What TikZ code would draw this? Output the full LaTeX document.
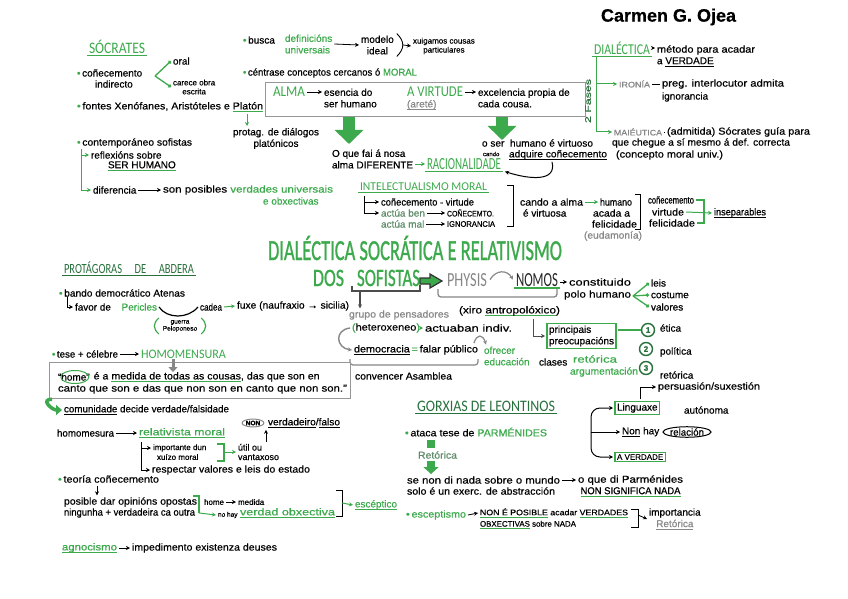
\documentclass[tikz,border=0pt]{standalone}
\usepackage{fontspec}
\setmainfont{Liberation Sans}[FakeBold=0.5]
\newfontfamily\hdfam{Carlito}
\newfontfamily\ttlfam{Carlito}[FakeBold=1.2]
\usepackage{graphicx}
\usetikzlibrary{arrows.meta,shapes.geometric}
\definecolor{grn}{RGB}{60,170,76}
\definecolor{dgrn}{RGB}{40,112,60}
\definecolor{gry}{RGB}{135,135,135}
\definecolor{mg}{RGB}{95,140,105}
\definecolor{boxc}{RGB}{150,150,150}
\newcommand\tf{\fontsize{10}{11.5}\selectfont}
\newcommand\smf{\fontsize{8}{9}\selectfont}
\newcommand\fw[2]{\resizebox{#1}{\height}{#2}}
\newcommand\hw[3]{\resizebox{#2}{\height}{\fontsize{#1}{#1}\selectfont\hdfam #3}}
\newcommand\tw[3]{\resizebox{#2}{\height}{\fontsize{#1}{#1}\selectfont\ttlfam #3}}
\newcommand\ulc[2]{\setbox0\hbox{#2}\leavevmode\rlap{\color{#1}\rule[-2.5pt]{\wd0}{0.8pt}}\box0\relax}
\newcommand\gb{\textcolor{grn}{•}\,}
\begin{document}
\begin{tikzpicture}[x=1pt,y=-1pt,
  tx/.style={anchor=west,inner sep=0pt,outer sep=2pt,font=\tf,align=left},
  hd/.style={anchor=west,inner sep=0pt,outer sep=2pt},
  ar/.style={-{Stealth[length=4pt,width=4pt]},line width=0.8pt},
  gar/.style={ar,draw=grn,line width=1pt},
  ln/.style={line width=0.9pt},
  gln/.style={line width=1pt,draw=grn},
  dar/.style={-{Circle[length=3.4pt]},line width=1.3pt,draw=grn},
  bigar/.style={draw=grn,line width=12pt,-{Triangle[length=14pt,width=28pt]}},
  gbox/.style={draw=grn,line width=1.2pt,inner sep=2pt},
  cnum/.style={circle,draw=dgrn,line width=1.4pt,inner sep=0.6pt,font=\smf\bfseries,text=dgrn,minimum size=13pt}]
\useasboundingbox (0,0) rectangle (848,599);
\fill[white] (0,0) rectangle (848,599);

% author
\node[hd,font=\fontsize{18}{18}\selectfont\bfseries] (author) at (599,17) {Carmen G. Ojea};

% ===== SOCRATES
\node[hd,text=grn] (soc) at (87,47) {\hw{16}{56pt}{SÓCRATES}};
\draw[gln] (soc.south west) -- (soc.south east);
\node[tx] (con1) at (75,73) {\gb coñecemento};
\node[tx] (con2) at (93,84) {indirecto};
\coordinate (fk1) at (155,76);
\node[tx] (oral) at (171,61) {oral};
\node[tx,font=\smf,align=center] (car) at (171,87) {carece obra\\escrita};
\draw[dar] (fk1) -- (oral.west);
\draw[dar] (fk1) -- (car.west);
\node[tx] (fon) at (75,107) {\fw{186pt}{\gb fontes Xenófanes, Aristóteles e \ulc{grn}{Platón}}};
\coordinate (pl) at (247,114);
\node[tx,anchor=north,align=center] (ptg) at (276,126) {protag. de diálogos\\platónicos};
\draw[gar] (pl) -- (pl |- ptg.north);
\node[tx] (cont) at (75,143) {\fw{115pt}{\gb contemporáneo sofistas}};
\coordinate (cL) at (81,149);
\node[tx] (refl) at (89,155) {reflexións sobre};
\node[tx] (serh) at (106,166) {\ulc{grn}{SER HUMANO}};
\node[tx] (dif) at (91,190) {diferencia};
\node[tx] (posi) at (161,190) {\fw{170pt}{son posibles \textcolor{grn}{verdades universais}}};
\node[tx,text=grn] (obx) at (261,201) {e obxectivas};
\draw[gar] (cL) |- (refl.west);
\draw[gar] (cL) |- (dif.west);
\draw[ar] (dif.east) -- (posi.west);

% ===== busca
\node[tx] (bus) at (241,40) {\gb busca};
\node[tx,text=grn] (defu) at (283,44) {definicións\\universais};
\node[tx,align=center] (mod) at (359,45) {modelo\\ideal};
\draw[ar] (defu.east) -- (mod.west);
\draw[ln] ([xshift=1pt]mod.north east) .. controls +(8,8) and +(8,-8) .. ([xshift=1pt]mod.south east);
\coordinate (bm) at (403,45);
\node[tx,font=\smf,align=center] (xui) at (411,46) {xuigamos cousas\\particulares};
\draw[ar] (bm) -- (xui.west);
\node[tx] (cen) at (241,73) {\fw{174pt}{\gb céntrase conceptos cercanos ó \textcolor{grn}{MORAL}}};

% ===== box alma / virtude
\node[draw=boxc,line width=1.2pt,minimum width=320pt,minimum height=34pt,inner sep=0pt,anchor=north west] (abox) at (265,82) {};
\node[hd,text=grn] (alma) at (271,92) {\hw{15}{32pt}{ALMA}};
\node[tx] (esen) at (322,98) {esencia do\\ser humano};
\draw[ar] (alma.east) -- (alma.east -| esen.west);
\node[hd,text=grn] (virt) at (405,92) {\hw{15}{56pt}{A VIRTUDE}};
\node[tx,text=gry] (aret) at (405,105) {\ulc{gry}{(areté)}};
\node[tx] (exc) at (476,98) {excelencia propia de\\cada cousa.};
\draw[ar] (virt.east) -- (virt.east -| exc.west);
\coordinate (a1) at (349,117);
\coordinate (a1e) at (349,144);
\draw[bigar] (a1) -- (a1e);
\coordinate (a2) at (502,117);
\coordinate (a2e) at (502,140);
\draw[bigar] (a2) -- (a2e);
\node[tx] (que) at (330,159) {O que fai á nosa\\alma DIFERENTE};
\node[hd,text=grn] (rac) at (425,164) {\hw{17}{74pt}{RACIONALIDADE}};
\draw[gln,line width=1.3pt] (rac.south west) -- (rac.south east);
\draw[gar] (rac.west -| que.east) -- (rac.west);
\node[tx] (vir) at (480,143) {\fw{111pt}{o ser \ humano é virtuoso}};
\node[tx,font=\fontsize{6}{6}\selectfont] (cando) at (481,154) {cando};
\node[tx] (adq) at (507,155) {\fw{98pt}{\ulc{black}{adquire coñecemento}}};
\draw[ar,line width=1pt] ([xshift=-6pt]adq.south) .. controls +(5,20) and +(25,8) .. ([xshift=2pt]rac.south east);

% ===== DIALECTICA
\node[hd,text=grn] (dial) at (592,48) {\hw{15}{56pt}{DIALÉCTICA}};
\draw[gln] (dial.south west) -- (dial.south east);
\node[tx] (met) at (655,50) {\fw{98pt}{método para acadar}};
\node[tx] (ver) at (655,62) {a \ulc{black}{VERDADE}};
\draw[ar] (dial.east) -- (dial.east -| met.west);
\coordinate (dL) at (596,57);
\node[tx,text=gry,font=\smf] (iro) at (617,84) {\fw{31pt}{IRONÍA}};
\node[tx] (preg) at (660,84) {\fw{122pt}{preg. interlocutor admita}};
\node[tx] (ign) at (660,97) {ignorancia};
\draw[ln] (iro.east) -- (preg.west);
\node[tx,text=gry,font=\smf] (mai) at (612,132) {\fw{48pt}{MAIÉUTICA}};
\node[tx] (adm) at (665,132) {\fw{143pt}{(admitida) Sócrates guía para}};
\node[tx] (cheg) at (610,143) {\fw{178pt}{que chegue a sí mesmo á def. correcta}};
\node[tx] (concm) at (614,155) {\fw{107pt}{(concepto moral univ.)}};
\draw[ln] (mai.east) -- (adm.west);
\draw[gar] (dL) |- (iro.west);
\draw[gar] (dL) |- (mai.west);
\node[rotate=90,inner sep=0pt,text=dgrn,font=\smf] (fas) at (588,101) {\fw{44pt}{2 Fases}};

% ===== INTELECTUALISMO
\node[hd,text=grn] (int) at (358,187) {\hw{12}{127pt}{INTELECTUALISMO MORAL}};
\draw[gln] (int.south west) -- (int.south east);
\coordinate (iL) at (364,196);
\node[tx] (k1) at (379,202) {\fw{93pt}{coñecemento - virtude}};
\node[tx,text=mg] (k2) at (379,213) {actúa ben};
\node[tx,font=\smf] (k2b) at (445,213) {\fw{47pt}{COÑECEMTO.}};
\node[tx,text=mg] (k3) at (379,224) {actúa mal};
\node[tx,font=\smf] (k3b) at (445,224) {\fw{48pt}{IGNORANCIA}};
\draw[ar] (iL) |- (k1.west);
\draw[ar] (iL) |- (k2.west);
\draw[ar] (k2.east) -- (k2b.west);
\draw[ar] (k3.east) -- (k3b.west);
\draw[ln] (507,185) -- (513,185) -- (513,226) -- (507,226);
\node[tx] (cal1) at (518,202) {\fw{63pt}{cando a alma}};
\node[tx] (cal2) at (521,213) {é virtuosa};
\node[tx] (hum1) at (598,202) {\fw{32pt}{humano}};
\node[tx] (hum2) at (591,213) {\fw{37pt}{acada a}};
\node[tx] (hum3) at (590,224) {\fw{45pt}{felicidade}};
\draw[gar] (cal1.east) -- (hum1.west);
\node[tx,text=gry] (eud) at (582,236) {\fw{58pt}{(eudamonía)}};
\draw[ln] (635,194) -- (640,194) -- (640,229) -- (635,229);
\node[tx] (tr1) at (646,200) {\fw{46pt}{coñecemento}};
\node[tx] (tr2) at (650,212) {\fw{32pt}{virtude}};
\node[tx] (tr3) at (647,223) {\fw{46pt}{felicidade}};
\coordinate (bk) at (704,212);
\draw[gln,line width=1.2pt] (tr1.east) -| (bk) |- (tr3.east);
\node[tx] (insep) at (712,213) {\fw{52pt}{\ulc{black}{inseparables}}};
\draw[gar] (tr2.east) -- (insep.west);

% ===== TITLE
\node[hd,anchor=base west,text=grn] (t1) at (266,260) {\tw{29}{294pt}{DIALÉCTICA SOCRÁTICA E RELATIVISMO}};
\node[hd,anchor=base west,text=grn] (t2) at (311,286) {\tw{25}{31pt}{DOS}};
\node[hd,anchor=base west,text=grn] (t3) at (355,286) {\tw{25}{63pt}{SOFISTAS}};
\draw[line width=1.3pt,black!70] (352,286) -- (352,291) -- (420,291) -- (420,285);
\coordinate (sD) at (360,291);
\node[tx,text=gry] (grp) at (347,315) {\fw{100pt}{grupo de pensadores}};
\draw[ar,black!70,line width=1.2pt] (sD) -- (sD |- grp.north);
\draw[black!80,fill=grn,line width=1.2pt] (420,278) -- (430,278) -- (430,274) -- (442,281) -- (430,288) -- (430,284) -- (420,284) -- cycle;
\node[hd,anchor=base west,text=gry] (phys) at (445,286) {\hw{20}{40pt}{PHYSIS}};
\node[hd,anchor=base west,text=black!85] (nomos) at (514,286) {\hw{20}{42pt}{NOMOS}};
\draw[gln,line width=1.3pt] (nomos.south west) -- (nomos.south east);
\draw[gry,ar,line width=1.2pt] ([xshift=1pt]phys.east) .. controls +(6,-10) and +(-6,-10) .. ([xshift=-1pt]nomos.west);
\node[tx] (cons1) at (567,282) {\fw{62pt}{constituido}};
\node[tx] (cons2) at (562,295) {\fw{67pt}{polo humano}};
\draw[ar] (nomos.east |- cons1.west) -- (cons1.west);
\draw[gry,line width=1.3pt,rounded corners=3pt] (438,289) -- (438,297) -- (557,297) -- (557,289);
\node[tx] (xiro) at (457,311) {\fw{101pt}{(xiro \ulc{grn}{antropolóxico})}};
\coordinate (fk2) at (633,296);
\node[tx] (leis) at (649,283) {leis};
\node[tx] (cost) at (649,295) {costume};
\node[tx] (val) at (649,307) {valores};
\draw[dar] (fk2) -- (leis.west);
\draw[dar] (fk2) -- (cost.west);
\draw[dar] (fk2) -- (val.west);

% ===== sofistas group
\node[tx] (het) at (350,328) {\fw{68pt}{\textcolor{grn}{(}heteroxeneo\textcolor{grn}{)}}};
\node[tx] (act) at (423,328) {\fw{87pt}{actuaban indiv.}};
\draw[gar] (het.east) -- (act.west);
\node[tx] (dem) at (352,350) {\fw{124pt}{\ulc{black}{democracia}\,\textcolor{grn}{=}\,falar público}};
\draw[gry,ar,line width=1.4pt] (het.west) .. controls +(-16,2) and +(-16,-2) .. (dem.west);
\node[tx,text=grn] (ofr) at (482,356) {ofrecer\\educación};
\draw[gry,ar,line width=1.2pt] ([xshift=-6pt]dem.north east) .. controls +(3,-10) and +(-3,-10) .. ([xshift=4pt]ofr.north west);
\node[tx] (clas) at (537,362) {clases};
\node[tx,text=grn] (ret) at (571,359) {\fw{44pt}{retórica}};
\node[tx,text=grn] (arg) at (568,372) {\fw{68pt}{argumentación}};
\draw[gry,line width=1.2pt,rounded corners=3pt] (350,359) -- (350,365) -- (478,365) -- (478,359);
\node[tx] (conv) at (353,376) {\fw{97pt}{convencer Asamblea}};
\coordinate (xr) at (533,319);
\node[tx,gbox] (prin) at (545,336) {principais\\preocupacións};
\draw[ar,black!70] (xr) |- (prin.west);
\node[cnum] (c1) at (648,330) {1};
\node[cnum] (c2) at (646,349) {2};
\node[cnum] (c3) at (646,368) {3};
\draw[gln,line width=1.2pt] (c1.west -| prin.east) -- (c1.west);
\node[tx] (eti) at (658,328) {ética};
\node[tx] (pol) at (658,352) {política};
\node[tx] (ret2) at (658,375) {retórica};

% ===== PROTAGORAS
\node[hd,text=dgrn] (prot) at (62,268) {\hw{14}{130pt}{PROTÁGORAS\hspace{1.2em}DE\hspace{1.2em}ABDERA}};
\draw[draw=dgrn,line width=1pt] (prot.south west) -- (prot.south east);
\node[tx] (band) at (57,293) {\fw{126pt}{\gb bando democrático Atenas}};
\coordinate (bL) at (67,297);
\node[tx] (fav) at (73,307) {\fw{82pt}{favor de \hspace{0.8em}\textcolor{grn}{Pericles}}};
\draw[ar] (bL) |- (fav.west);
\node[tx] (cad) at (198,307) {\fw{22pt}{cadea}};
\draw[line width=1.2pt] (fav.east) .. controls +(8,12) and +(-10,12) .. (cad.west);
\node[tx] (fux) at (235,306) {\fw{112pt}{fuxe (naufraxio → sicilia)}};
\draw[gar] (cad.east) -- (fux.west);
\node[tx,anchor=center,font=\fontsize{6.5}{7}\selectfont,align=center] (guer) at (180,326) {guerra\\Peloponeso};
\draw[gln,line width=1.2pt] ([xshift=-2pt]guer.north west) .. controls +(-6,5) and +(-6,-5) .. ([xshift=-2pt]guer.south west);
\draw[gln,line width=1.2pt] ([xshift=2pt]guer.north east) .. controls +(6,5) and +(6,-5) .. ([xshift=2pt]guer.south east);
\node[tx] (tese) at (50,354) {\fw{66pt}{\gb tese + célebre}};
\node[hd,text=grn] (homo) at (139,354) {\hw{13}{85pt}{HOMOMENSURA}};
\draw[ar] (tese.east) -- (homo.west);
\node[draw=boxc,line width=1.2pt,minimum width=301pt,minimum height=36pt,inner sep=0pt,anchor=north west] (qbox) at (49,362) {};
\coordinate (hq) at (173,359);
\coordinate (qa) at (173,372);
\draw[gry,line width=3pt,-{Triangle[length=5pt,width=9pt]}] (hq) -- (qa);
\node[tx] (qh) at (56,377) {“home”};
\draw[grn,line width=1pt] ([xshift=1pt]qh.center) ellipse [x radius=14pt,y radius=6.5pt];
\node[tx] (q1) at (qh.east) {\fw{226pt}{é a \ulc{grn}{medida de todas as cousas}, das que son en}};
\node[tx] (q2) at (56,389) {\fw{289pt}{canto que son e das que non son en canto que non son.”}};
\node[tx] (com) at (62,410) {\fw{165pt}{\ulc{black}{comunidade} decide verdade/falsidade}};
\draw[grn,line width=3.5pt,-{Triangle[length=6pt,width=10pt]}] ([xshift=3pt]qbox.south west) .. controls +(-12,0) and +(-10,0) .. (com.west);
\node[tx] (hm) at (55,433) {\fw{57pt}{homomesura}};
\node[tx,text=grn] (relm) at (137,433) {\fw{86pt}{\ulc{grn}{relativista moral}}};
\draw[ar] (hm.east) -- (relm.west);
\node[draw=gry,ellipse,line width=1pt,inner sep=0.5pt,font=\fontsize{6.5}{7}\selectfont\bfseries] (non) at (253,423) {NON};
\node[tx] (vf) at (266,423) {\fw{72pt}{\ulc{black}{verdadeiro}/\ulc{black}{falso}}};
\coordinate (rL) at (141,442);
\node[tx,font=\smf] (imp1) at (151,448) {importante dun};
\node[tx,font=\smf] (imp2) at (155,457) {xuízo moral};
\node[tx] (resp) at (150,470) {\fw{158pt}{respectar valores e leis do estado}};
\draw[ar] (rL) |- (imp1.west);
\draw[ar] (rL) |- (resp.west);
\coordinate (gbk) at (224,452);
\draw[gln,line width=1.2pt] (217,444) -| (gbk) |- (217,461);
\node[tx,font=\fontsize{9}{9.5}\selectfont] (util) at (236,452) {útil ou\\vantaxoso};
\draw[gar] (gbk) -- (util.west);
\coordinate (ua) at (266,442);
\draw[ar] (ua) -- (ua |- vf.south);
\node[tx] (teo) at (56,479) {\fw{101pt}{\gb teoría coñecemento}};
\coordinate (tD) at (97,486);
\node[tx] (pos1) at (62,502) {\fw{133pt}{posible dar opinións opostas}};
\node[tx] (pos2) at (62,513) {\fw{131pt}{ningunha + verdadeira ca outra}};
\draw[ar] (tD) -- (tD |- pos1.north);
\draw[gln,line width=1.2pt] (193,496) -- (199,496) -- (199,513);
\coordinate (gb2) at (199,513);
\node[tx,font=\smf] (hme1) at (202,502) {home};
\node[tx,font=\smf] (hme2) at (236,502) {medida};
\draw[ar] (hme1.east) -- (hme2.west);
\node[tx,font=\fontsize{6.5}{7}\selectfont] (nohay) at (216,515) {no hay};
\node[tx,text=grn] (vob) at (238,513) {\fw{95pt}{\ulc{grn}{verdad obxectiva}}};
\draw[gar] (gb2) -- (nohay.west);
\draw[ln] (336,490) -- (342,490) -- (342,516) -- (336,516);
\coordinate (bb) at (342,503);
\node[tx,text=grn] (escep) at (353,505) {\fw{42pt}{\ulc{grn}{escéptico}}};
\draw[gar] (bb) -- (escep.west);
\node[tx,text=grn] (agn) at (60,548) {\fw{55pt}{\ulc{grn}{agnocismo}}};
\node[tx] (imped) at (130,548) {\fw{145pt}{impedimento existenza deuses}};
\draw[ar] (agn.east) -- (imped.west);

% ===== GORXIAS
\node[hd,text=dgrn] (gor) at (415,406) {\hw{16}{138pt}{GORXIAS DE LEONTINOS}};
\draw[draw=dgrn,line width=1pt] (gor.south west) -- (gor.south east);
\node[tx] (ata) at (403,432) {\fw{142pt}{\gb ataca tese de \textcolor{grn}{PARMÉNIDES}}};
\fill[grn] (427,440) rectangle (435,448);
\node[tx,text=mg] (retg) at (416,455) {\fw{39pt}{Retórica}};
\coordinate (g1) at (431,461);
\coordinate (g2) at (431,474);
\draw[grn,line width=8pt,-{Triangle[length=7pt,width=15pt]}] (g1) -- (g2);
\node[tx] (sen1) at (405,480) {\fw{153pt}{se non di nada sobre o mundo}};
\node[tx] (sen2) at (405,491) {\fw{148pt}{solo é un exerc. de abstracción}};
\node[tx,align=center] (oque) at (576,486) {\fw{105pt}{o que di Parménides}\\\fw{100pt}{\ulc{grn}{NON SIGNIFICA NADA}}};
\draw[ar] (sen1.east) -- (sen1.east -| oque.west);
\node[tx] (esc2) at (404,515) {\fw{60pt}{\gb\textcolor{grn}{esceptismo}}};
\node[tx,font=\smf] (np1) at (478,513) {\fw{148pt}{\ulc{grn}{NON É POSIBLE} acadar \ulc{grn}{VERDADES}}};
\node[tx,font=\smf] (np2) at (478,525) {\fw{96pt}{\ulc{grn}{OBXECTIVAS} sobre NADA}};
\draw[ar] (esc2.east) -- (np1.west);
\draw[ln] (631,509) -- (638,509) -- (638,527) -- (631,527);
\coordinate (bb2) at (638,515);
\node[tx,align=center] (impo) at (647,519) {importancia\\\textcolor{gry}{\ulc{gry}{Retórica}}};
\draw[ar] (bb2) -- (impo.west);

% ===== linguaxe
\node[tx,gbox] (ling) at (613,408) {Linguaxe};
\node[tx] (aut) at (682,410) {autónoma};
\node[tx] (pers) at (656,387) {\fw{102pt}{persuasión/suxestión}};
\draw[ar] ([xshift=3pt]ling.north) |- (pers.west);
\node[tx] (nonh) at (620,432) {\ulc{black}{Non} hay};
\node[draw,ellipse,line width=1pt,inner sep=0pt,font=\tf] (rel) at (687,432) {\fw{34pt}{relación}};
\node[tx,gbox,font=\smf] (aver) at (613,457) {A VERDADE};
\coordinate (fk3) at (591,432);
\draw[ar,line width=1pt,rounded corners=9pt] (fk3) |- (ling.west);
\draw[ar,line width=1pt,rounded corners=9pt] (fk3) |- (aver.west);
\draw[ar,line width=1pt] (fk3) -- (nonh.west);
\end{tikzpicture}
\end{document}
